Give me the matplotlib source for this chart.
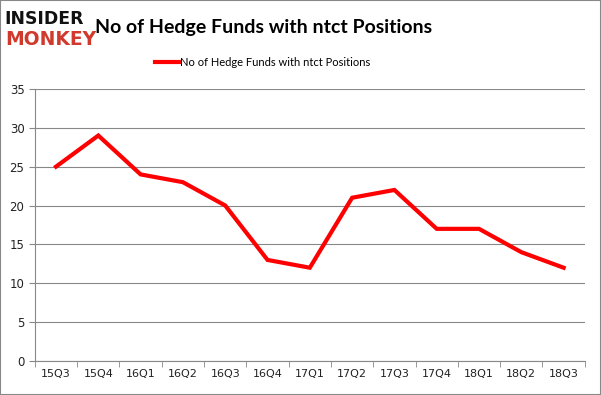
import matplotlib.pyplot as plt
from matplotlib.patches import Rectangle

# data
quarters = ['15Q3', '15Q4', '16Q1', '16Q2', '16Q3', '16Q4', '17Q1',
            '17Q2', '17Q3', '17Q4', '18Q1', '18Q2', '18Q3']
funds = [25, 29, 24, 23, 20, 13, 12, 21, 22, 17, 17, 14, 12]
series_name = 'No of Hedge Funds with ntct Positions'

fig = plt.figure(figsize=(6.01, 3.95), dpi=100)
ax = fig.add_axes([0.058, 0.086, 0.915, 0.689])

x = list(range(len(quarters)))
ax.plot(x, funds, color='#ff0000', lw=3, label=series_name, solid_joinstyle='miter')

ax.set_xlim(-0.5, len(quarters) - 0.5)
ax.set_ylim(0, 35)
ax.set_yticks(range(0, 36, 5))
ax.set_xticks(x)
ax.set_xticklabels(quarters)
ax.set_xticks([i - 0.5 for i in range(len(quarters) + 1)], minor=True)
ax.tick_params(axis='x', which='major', length=0, pad=6, labelsize=8, colors='#222222')
ax.tick_params(axis='x', which='minor', length=4, color='#888888')
ax.tick_params(axis='y', length=4, color='#888888', labelsize=8.5, colors='#222222')
ax.grid(axis='y', color='#888888', lw=0.8)
ax.set_axisbelow(True)
for s in ['top', 'right']:
    ax.spines[s].set_visible(False)
for s in ['left', 'bottom']:
    ax.spines[s].set_color('#888888')

fig.text(0.438, 0.93, 'No of Hedge Funds with ntct Positions', ha='center', va='center',
         fontsize=14, fontweight='bold', family='Lato')
fig.legend(loc='center', bbox_to_anchor=(0.437, 0.843), frameon=False,
           handlelength=2.2, handletextpad=0.1, prop={'family': 'Lato', 'size': 8})

# logo
fig.text(0.008, 0.953, 'INSIDER', fontsize=12.4, fontweight='heavy', color='#111111',
         family='DejaVu Sans', va='center')
fig.text(0.008, 0.9, 'MONKEY', fontsize=13.5, fontweight='heavy', color='#d0392b',
         family='DejaVu Sans', va='center')

fig.patches.append(Rectangle((0, 0), 1, 1, transform=fig.transFigure, fill=False,
                             edgecolor='#888888', lw=1.5))
fig.savefig('out.png', dpi=100)
